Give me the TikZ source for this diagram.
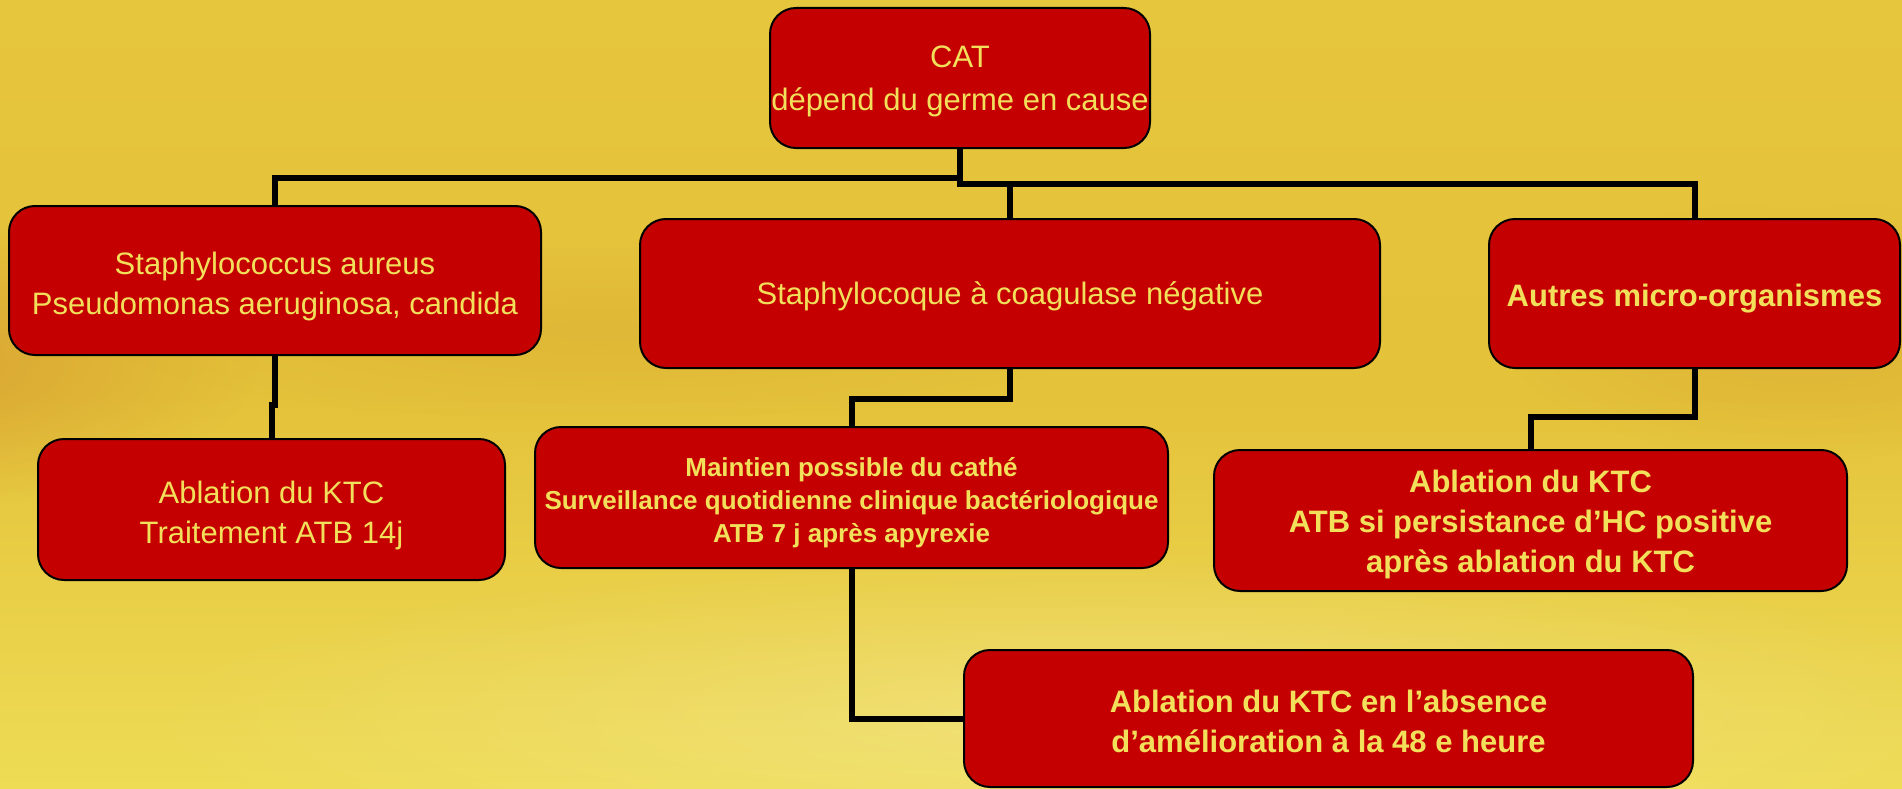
\documentclass[tikz,border=0pt]{standalone}
\usepackage{fontspec}
\setmainfont{Liberation Sans}
\usetikzlibrary{fadings}
\tikzfading[name=softblob, inner color=transparent!0, outer color=transparent!100]
\newcommand\tstrut[1]{\rule{0pt}{#1}}
\definecolor{boxred}{HTML}{C40000}
\definecolor{txtyel}{HTML}{F2E05A}
\definecolor{bgtop}{HTML}{E6C63C}
\definecolor{bgmid}{HTML}{E4C23A}
\definecolor{bgbot}{HTML}{EEDC55}
\definecolor{bgorange}{HTML}{D4962E}
\tikzset{
  box/.style={draw=black, line width=2pt, fill=boxred, rounded corners=26pt,
    text=txtyel, align=center, inner sep=0pt, anchor=center,
    font=\fontsize{31}{40}\selectfont},
  boldbox/.style={box, font=\fontsize{31}{40}\selectfont\bfseries},
  topstrut/.style={execute at begin node={\rule{0pt}{#1}}},
  conn/.style={draw=black, line width=6pt}
}
\begin{document}
\begin{tikzpicture}[x=1pt,y=-1pt]
\useasboundingbox (0,0) rectangle (1902,789);
\clip (0,0) rectangle (1902,789);
% background
\shade[top color=bgtop, bottom color=bgbot, middle color=bgmid] (0,0) rectangle (1902,789);
\fill[bgorange, path fading=softblob, opacity=0.75] (-120,360) ellipse (380 and 150);
\fill[bgorange, path fading=softblob, opacity=0.35] (1800,330) ellipse (300 and 130);
\fill[bgorange, path fading=softblob, opacity=0.25] (600,330) ellipse (500 and 90);
\fill[white, path fading=softblob, opacity=0.22] (1100,720) ellipse (950 and 170);

% nodes
\node[box, minimum width=380pt, minimum height=140pt,
  font=\fontsize{31}{43}\selectfont] (cat) at (960,78)
  {\tstrut{28pt}CAT\\dépend du germe en cause};
\node[box, minimum width=532pt, minimum height=149pt] (sa) at (275,280.5)
  {\tstrut{35pt}Staphylococcus aureus\\Pseudomonas aeruginosa, candida};
\node[box, minimum width=740pt, minimum height=149pt, topstrut=28pt] (scn) at (1010,293.5)
  {Staphylocoque à coagulase négative};
\node[boldbox, minimum width=411pt, minimum height=149pt, topstrut=33pt] (autres) at (1694.5,293.5)
  {Autres micro-organismes};
\node[box, minimum width=467pt, minimum height=141pt] (abl1) at (271.5,509.5)
  {\tstrut{34pt}Ablation du KTC\\Traitement ATB 14j};
\node[boldbox, minimum width=633pt, minimum height=141pt,
  font=\fontsize{26}{33}\selectfont\bfseries] (maint) at (851.5,497.5)
  {\tstrut{29pt}Maintien possible du cathé\\Surveillance quotidienne clinique bactériologique\\ATB 7 j après apyrexie};
\node[boldbox, minimum width=633pt, minimum height=141pt] (abl3) at (1530.5,520.5)
  {\tstrut{31pt}Ablation du KTC\\ATB si persistance d’HC positive\\après ablation du KTC};
\node[boldbox, minimum width=729pt, minimum height=137pt] (bot) at (1328.5,718.5)
  {\tstrut{28pt}Ablation du KTC en l’absence\\d’amélioration à la 48 e heure};

% connectors
\coordinate (j1) at (960,184);
\draw[conn] (cat.south) -- (j1) -| (autres.north);
\draw[conn] (j1) -| (scn.north);
\draw[conn] (cat.south |- 0,178) -| (sa.north);
\draw[conn] (sa.south) -- ++(0,49) -| (abl1.north);
\draw[conn] (scn.south) -- ++(0,30) -| (maint.north);
\draw[conn] (maint.south) |- (bot.west);
\draw[conn] (autres.south) -- ++(0,48) -| (abl3.north);
\end{tikzpicture}
\end{document}
